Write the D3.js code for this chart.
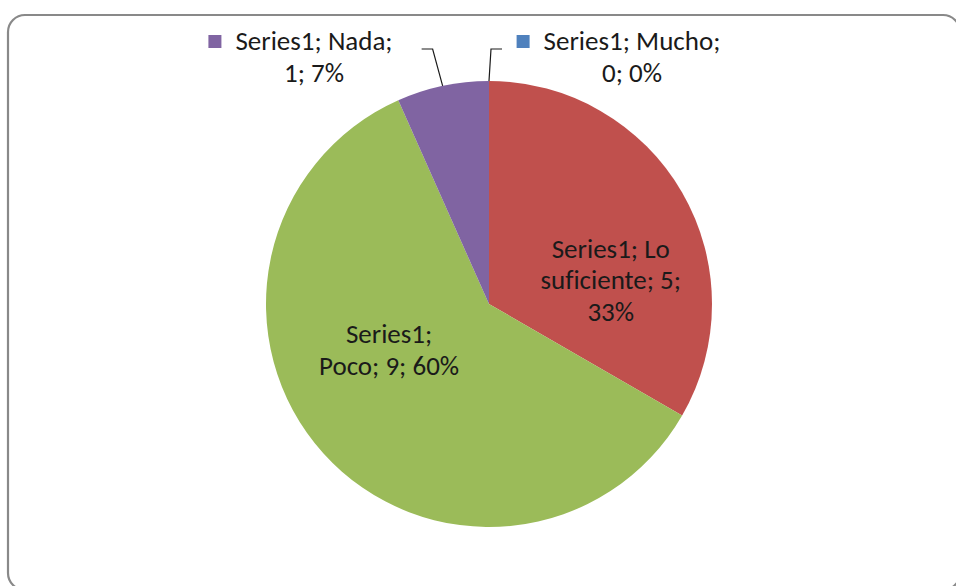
<!DOCTYPE html>
<html>
<head>
<meta charset="utf-8">
<script src="https://cdn.jsdelivr.net/npm/d3@7"></script>
<style>
  body { margin: 0; background: #fff; }
  text { font-family: Carlito, "Liberation Sans Narrow", "DejaVu Sans Condensed", sans-serif; font-size: 27px; fill: #1a1a1a; font-variant-ligatures: none; }
</style>
</head>
<body>
<div class="pie"></div>
<script>
// data
const categories = ['Mucho', 'Lo suficiente', 'Poco', 'Nada'];
const values = [0, 5, 9, 1];
const percents = ['0%', '33%', '60%', '7%'];
const seriesName = 'Series1';
const colors = ['#4F81BD', '#C0504D', '#9BBB59', '#8064A2'];

let width = 956, height = 586;
let cx = 489, cy = 304, radius = 223;

let svg = d3.select('.pie').append('svg')
    .attr('width', width)
    .attr('height', height);

// chart area border (runs off the right and bottom)
svg.append('rect')
    .attr('x', 8).attr('y', 15)
    .attr('width', 952).attr('height', 575)
    .attr('rx', 17).attr('ry', 17)
    .attr('fill', '#fff')
    .attr('stroke', '#898989')
    .attr('stroke-width', 2.2);

let data = categories.map((c, i) => ({ cat: c, value: values[i], pct: percents[i], color: colors[i] }));

let pie = d3.pie().sort(null).value(d => d.value);
let arc = d3.arc().innerRadius(0).outerRadius(radius);
let arcs = pie(data);

let g = svg.append('g').attr('transform', 'translate(' + cx + ',' + cy + ')');

g.selectAll('.slice')
    .data(arcs.filter(d => d.value > 0))
    .enter().append('path')
    .classed('slice', true)
    .attr('d', arc)
    .attr('fill', d => d.data.color);

// inside labels: radius + angle shift from the slice middle (Excel places them a bit off)
let inside = {
    'Lo suficiente': { r: 124, da: 19, lines: d => [seriesName + '; Lo', 'suficiente; ' + d.value + ';', d.data.pct] },
    'Poco': { r: 110, da: 17.3, lines: d => [seriesName + ';', 'Poco; ' + d.value + '; ' + d.data.pct] }
};
let lineH = 31.5;

arcs.filter(d => inside[d.data.cat]).forEach(d => {
    let o = inside[d.data.cat];
    let a = (d.startAngle + d.endAngle) / 2 + o.da * Math.PI / 180;
    let x = o.r * Math.sin(a), y = -o.r * Math.cos(a);
    let lines = o.lines(d);
    let t = g.append('text').attr('text-anchor', 'middle');
    lines.forEach((l, i) => {
        t.append('tspan')
            .attr('x', x)
            .attr('y', y + (i - (lines.length - 1) / 2) * lineH + 9)
            .text(l);
    });
});

// outside labels with leader lines
let outside = {
    'Nada': { elbowY: -255, dx: -10, side: -1, tx: -175, lines: d => [seriesName + '; Nada;', d.value + '; ' + d.data.pct] },
    'Mucho': { elbowY: -255, dx: 2, side: 1, tx: 143, lines: d => [seriesName + '; Mucho;', d.value + '; ' + d.data.pct] }
};

arcs.filter(d => outside[d.data.cat]).forEach(d => {
    let o = outside[d.data.cat];
    let a = (d.startAngle + d.endAngle) / 2;
    let x0 = radius * Math.sin(a), y0 = -radius * Math.cos(a);
    let x1 = x0 + o.dx, y1 = o.elbowY;
    let x2 = x1 + o.side * 11;
    g.append('path')
        .attr('d', 'M' + x0 + ',' + y0 + 'L' + x1 + ',' + y1 + 'L' + x2 + ',' + y1)
        .attr('fill', 'none')
        .attr('stroke', '#1a1a1a')
        .attr('stroke-width', 1.2);

    let lines = o.lines(d);
    let t = g.append('text').attr('text-anchor', 'middle');
    lines.forEach((l, i) => {
        t.append('tspan')
            .attr('x', o.tx)
            .attr('y', -254 + i * 32)
            .text(l);
    });
    // legend key square in front of first line
    let w = t.select('tspan').node().getComputedTextLength();
    g.append('rect')
        .attr('x', o.tx - w / 2 - 27)
        .attr('y', -269)
        .attr('width', 13).attr('height', 13)
        .attr('fill', d.data.color);
});
</script>
</body>
</html>
